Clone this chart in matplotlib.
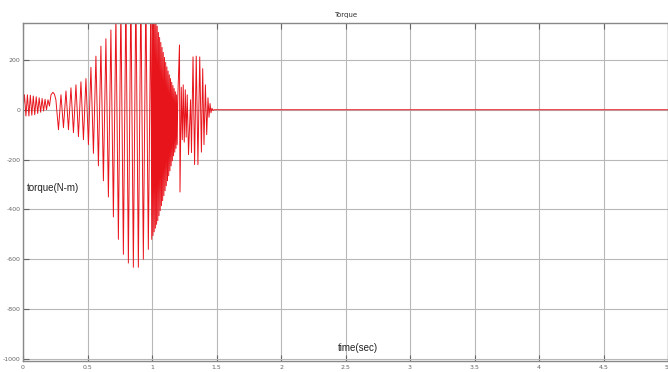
import numpy as np
import matplotlib
matplotlib.use("Agg")
import matplotlib.pyplot as plt

plt.rcParams['axes.unicode_minus'] = False

# extrema (time in s, torque in N-m)
start_vals = [0, 60, -25, 60, -25, 58, -22, 55, -20, 52, -15, 48, -10, 45, -5, 42, 0, 40, 15]
start_t = (0.0, 0.205)

hump_t = [0.217, 0.232, 0.244, 0.255]
hump_vals = [60, 70, 62, 40]

grow_vals = [-80, 60, -72, 75, -80, 88, -92, 100, -108, 112, -120, 125,
             -140, 170, -175, 215, -225, 255, -285, 285, -350, 320, -430, 380,
             -520, 420, -580, 450, -615, 470, -632, 480, -632, 470, -600, 460,
             -560, 450]
grow_t = (0.275, 0.991)

burst_lo = [-520, -505, -490, -475, -460, -445, -425, -405, -385, -365, -345,
            -325, -305, -285, -265, -245, -225, -205, -185, -170, -155, -140]
burst_hi = [440, 410, 385, 360, 335, 310, 290, 270, 250, 230, 210,
            190, 172, 155, 140, 125, 110, 97, 85, 72, 60, 50]
burst_t = (0.998, 1.200)

tail_t = [1.213, 1.217, 1.227, 1.235, 1.242, 1.250, 1.258, 1.265, 1.273, 1.283,
          1.299, 1.306, 1.318, 1.330, 1.343, 1.356, 1.370, 1.383, 1.393, 1.403,
          1.414, 1.424, 1.434, 1.442, 1.450, 1.457, 1.465, 1.473, 1.482, 5.0]
tail_vals = [260, -330, 90, -120, 100, -130, 80, -110, 60, -180,
             40, -172, 212, -220, 215, -220, 212, -170, 165, -140,
             100, -100, 48, -30, 25, -12, 6, -3, 0, 0]

x_ticks = [0, 0.5, 1, 1.5, 2, 2.5, 3, 3.5, 4, 4.5, 5]
x_labels = ['0', '0.5', '1', '1.5', '2', '2.5', '3', '3.5', '4', '4.5', '5']
y_ticks = [-1000, -800, -600, -400, -200, 0, 200]

# build the signal
burst_vals = np.ravel(np.column_stack([burst_lo, burst_hi]))
t = np.concatenate([
    np.linspace(start_t[0], start_t[1], len(start_vals)),
    hump_t,
    np.linspace(grow_t[0], grow_t[1], len(grow_vals)),
    np.linspace(burst_t[0], burst_t[1], len(burst_vals)),
    tail_t,
])
y = np.concatenate([start_vals, hump_vals, grow_vals, burst_vals, tail_vals])

fig = plt.figure(figsize=(6.68, 3.72), dpi=100)
ax = fig.add_axes([23 / 668, 1 - 361 / 372, 1 - 23 / 668, (361 - 23) / 372])

ax.plot(t, y, color='#e8141c', lw=0.7)

ax.set_xlim(0, 5)
ax.set_ylim(-1008, 348)
ax.set_xticks(x_ticks)
ax.set_xticklabels(x_labels)
ax.set_yticks(y_ticks)
ax.grid(True, color='#b8b8b8', lw=0.8)
ax.tick_params(direction='in', length=4, width=0.8, colors='#666666',
               labelsize=4.5, pad=2, top=True)
ax.tick_params(axis='x', pad=3)
# last label sits on the figure edge, anchor it to the right
ax.get_xticklabels()[-1].set_ha('right')
for s in ax.spines.values():
    s.set_color('#888888')
    s.set_linewidth(1.0)

ax.set_title('Torque', fontsize=5, pad=4, color='#333333')
ax.text(0.03, -312, 'torque(N-m)', fontsize=7, family='Liberation Sans',
        va='center', ha='left', color='#222222')
ax.text(2.438, -956, 'time(sec)', fontsize=7, family='Liberation Sans',
        va='center', ha='left', color='#222222')

fig.savefig('out.png', dpi=100)
